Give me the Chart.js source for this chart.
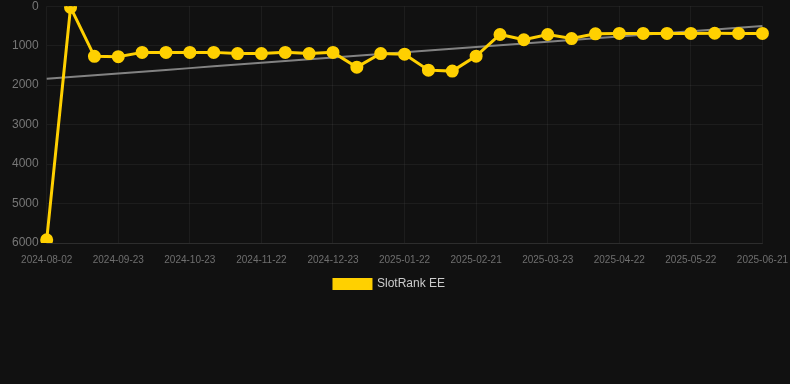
<!DOCTYPE html>
<html>
<head>
<meta charset="utf-8">
<script src="https://cdn.jsdelivr.net/npm/chart.js@4"></script>
<style>
  html, body { margin: 0; padding: 0; background: #111111; overflow: hidden; }
  #wrap { position: relative; width: 799px; height: 309px; margin-top: -9px; }
</style>
</head>
<body>
<div id="wrap"><canvas id="rankChart"></canvas></div>
<script>
// Dates (one point about every 10 days)
const dates = [
    '2024-08-02', '2024-09-03', '2024-09-13', '2024-09-23', '2024-10-03', '2024-10-13',
    '2024-10-23', '2024-11-02', '2024-11-12', '2024-11-22', '2024-12-03', '2024-12-13',
    '2024-12-23', '2025-01-02', '2025-01-12', '2025-01-22', '2025-02-01', '2025-02-11',
    '2025-02-21', '2025-03-03', '2025-03-13', '2025-03-23', '2025-04-02', '2025-04-12',
    '2025-04-22', '2025-05-02', '2025-05-12', '2025-05-22', '2025-06-01', '2025-06-11',
    '2025-06-21'
];

// SlotRank EE position
const ranks = [
    5920, 30, 1270, 1280, 1170, 1170, 1170, 1170, 1200, 1200, 1170, 1200,
    1170, 1545, 1200, 1215, 1620, 1645, 1265, 717, 850, 717, 820, 700,
    690, 690, 690, 690, 685, 690, 690
];

const yTicks = [0, 1000, 2000, 3000, 4000, 5000, 6000];

// Least squares trend line through the rank data
function trendLine(values) {
    const n = values.length;
    let sx = 0, sy = 0, sxy = 0, sxx = 0;
    values.forEach((v, i) => { sx += i; sy += v; sxy += i * v; sxx += i * i; });
    const slope = (n * sxy - sx * sy) / (n * sxx - sx * sx);
    const icpt = (sy - slope * sx) / n;
    return values.map((v, i) => icpt + slope * i);
}

const yellow = '#ffd000';

new Chart(document.getElementById('rankChart'), {
    type: 'line',
    data: {
        labels: dates,
        datasets: [{
            label: 'SlotRank EE',
            data: ranks,
            borderColor: yellow,
            backgroundColor: yellow,
            borderWidth: 3,
            pointRadius: 5,
            pointHoverRadius: 6,
            pointBackgroundColor: yellow,
            pointBorderColor: yellow,
            tension: 0,
            order: 1
        }, {
            label: 'trend',
            data: trendLine(ranks),
            borderColor: 'rgba(150, 150, 150, 0.85)',
            borderWidth: 2,
            pointRadius: 0,
            fill: false,
            order: 2
        }]
    },
    options: {
        responsive: true,
        maintainAspectRatio: false,
        animation: false,
        layout: { padding: { left: 4, right: 24, top: 0, bottom: 0 } },
        scales: {
            x: {
                grid: { color: 'rgba(255,255,255,0.05)', drawTicks: false },
                border: { color: 'rgba(255,255,255,0.08)' },
                ticks: {
                    color: '#6f6f6f',
                    font: { family: 'Liberation Sans, Arial', size: 10 },
                    maxRotation: 0,
                    autoSkip: true,
                    maxTicksLimit: 11,
                    padding: 11
                }
            },
            y: {
                reverse: true,
                min: 0,
                max: 6000,
                afterBuildTicks: axis => { axis.ticks = yTicks.map(v => ({ value: v })); },
                grid: { color: 'rgba(255,255,255,0.05)', drawTicks: false },
                border: { display: false },
                ticks: {
                    color: '#777',
                    font: { family: 'Liberation Sans, Arial', size: 12 },
                    padding: 8,
                    callback: v => String(v)
                }
            }
        },
        plugins: {
            legend: {
                position: 'bottom',
                labels: {
                    color: '#ccc',
                    font: { family: 'Liberation Sans, Arial', size: 12 },
                    boxWidth: 37,
                    boxHeight: 9,
                    padding: 1,
                    filter: item => item.text !== 'trend'
                }
            },
            tooltip: { enabled: false }
        }
    }
});
</script>
</body>
</html>
